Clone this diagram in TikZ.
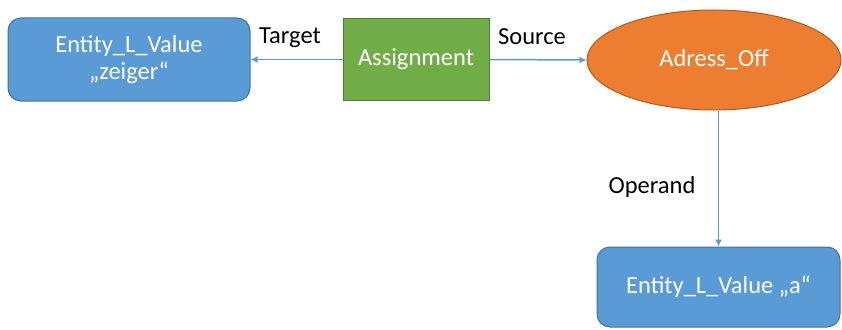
\documentclass[tikz,border=0pt]{standalone}
\usepackage{fontspec}
\setmainfont{Carlito}
\usetikzlibrary{shapes.geometric,arrows.meta}
\definecolor{boxblue}{HTML}{5B9BD5}
\definecolor{boxblueedge}{HTML}{41719C}
\definecolor{boxgreen}{HTML}{70AD47}
\definecolor{boxgreenedge}{HTML}{507E32}
\definecolor{boxorange}{HTML}{ED7D31}
\definecolor{boxorangeedge}{HTML}{AE5A21}
\tikzset{
  labelfont/.style={font=\fontsize{24.5}{27}\selectfont},
  entity/.style={draw=boxblueedge, fill=boxblue, line width=1pt, rounded corners=13pt,
    text=white, labelfont, align=center, inner sep=0pt},
  action/.style={draw=boxgreenedge, fill=boxgreen, line width=1pt,
    text=white, labelfont, inner sep=0pt},
  operation/.style={ellipse, draw=boxorangeedge, fill=boxorange, line width=1pt,
    text=white, labelfont, inner sep=0pt},
  link/.style={draw=boxblue, line width=1.5pt, -{Latex[length=7pt,width=7pt]}},
  role/.style={text=black, labelfont, inner sep=0pt}
}
\begin{document}
\begin{tikzpicture}[x=1pt, y=-1pt]
  \useasboundingbox (0,0) rectangle (842,329);
  % nodes
  \node[entity, minimum width=242pt, minimum height=83pt] (zeiger) at (129,59.5)
    {Entity\_L\_Value\\„zeiger“};
  \node[action, minimum width=146pt, minimum height=81pt] (assign) at (416,59.5) {Assignment};
  \node[operation, minimum width=254pt, minimum height=100pt] (adress) at (714,60) {Adress\_Off};
  \node[entity, minimum width=243pt, minimum height=80pt] (avalue) at (718.5,287)
    {Entity\_L\_Value „a“};
  % connectors
  \draw[link] (assign.west) -- (zeiger.east);
  \draw[link] (assign.east) -- (adress.west);
  \draw[link] (adress.south -| avalue.north) -- (avalue.north);
  % roles
  \node[role] (target) at (290,38) {Target};
  \node[role] (source) at (532,37) {Source};
  \node[role] (operand) at (652,187) {Operand};
\end{tikzpicture}
\end{document}
